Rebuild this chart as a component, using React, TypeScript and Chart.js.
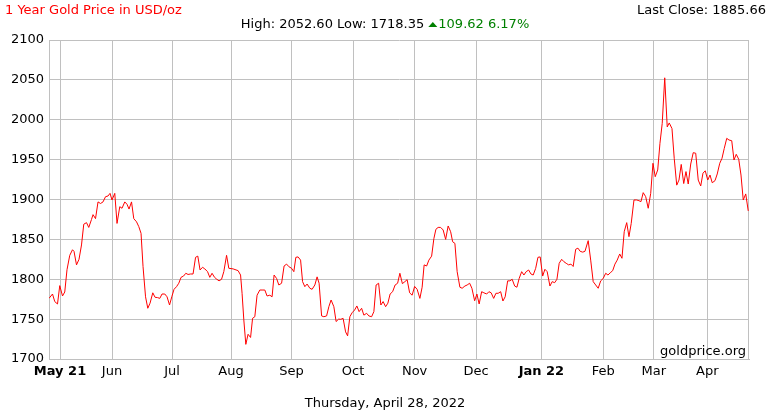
import { useEffect, useRef } from 'react';
import { Chart, registerables } from 'chart.js';

Chart.register(...registerables);

const FONT = '"DejaVu Sans", Verdana, sans-serif';
const GRID = '#c0c0c0';

const titleText = '1 Year Gold Price in USD/oz';
const lastCloseText = 'Last Close: 1885.66';
const highLowText = 'High: 2052.60 Low: 1718.35 ';
const changeText = '109.62 6.17%';
const dateText = 'Thursday, April 28, 2022';
const sourceText = 'goldprice.org';

const yTicks = [1700, 1750, 1800, 1850, 1900, 1950, 2000, 2050, 2100];
const monthLabels = ['May 21', 'Jun', 'Jul', 'Aug', 'Sep', 'Oct', 'Nov', 'Dec', 'Jan 22', 'Feb', 'Mar', 'Apr'];
const monthPos = [4.4, 25.2, 49.2, 72.8, 97, 121.6, 146.2, 170.8, 196.9, 221.6, 241.8, 263.2];
const boldLabels = ['May 21', 'Jan 22'];
const dayMax = 279.9;

// [trading-day position, price USD/oz]
const goldSeries: [number, number][] = [
  [0, 1776], [1.4, 1781.5], [2.3, 1772], [3.4, 1769], [4.3, 1792], [5.4, 1779], [6.3, 1784], [7.2, 1812],
  [8.3, 1830], [9.4, 1837], [10, 1835], [11, 1818], [12, 1825], [13, 1843], [13.9, 1869], [15, 1871],
  [15.9, 1865], [17, 1875], [17.6, 1881], [18.6, 1876], [19.6, 1897], [20.6, 1895], [21.6, 1897], [22.6, 1903.5],
  [23.6, 1904.4], [24.4, 1907.7], [25.2, 1899.4], [26.3, 1907.7], [27.2, 1870], [28.3, 1891], [29.2, 1889], [30.3, 1897],
  [31.2, 1894], [32, 1888], [33, 1897], [33.9, 1876], [35, 1872], [35.9, 1866], [36.8, 1857.6], [37.6, 1815.8],
  [38.6, 1778], [39.5, 1763.6], [40.4, 1770], [41.5, 1783], [42.4, 1777.4], [43.4, 1777], [44.3, 1776], [45.2, 1781.5],
  [46.3, 1781.5], [47.2, 1778], [48.2, 1767.7], [49.1, 1778], [50, 1787.4], [51, 1790.7], [51.9, 1795], [52.8, 1802.4],
  [53.8, 1804], [54.7, 1807.5], [55.6, 1806], [56.6, 1806.6], [57.6, 1806.6], [58.6, 1827.5], [59.5, 1829], [60.4, 1811.6],
  [61.4, 1815], [62.3, 1813], [63.4, 1809.5], [64.3, 1802.4], [65.2, 1807.5], [66.2, 1802.4], [67.1, 1800], [68, 1798],
  [69, 1800], [69.9, 1809.5], [71, 1830], [71.9, 1813.7], [73.6, 1813], [75.6, 1810.8], [76.6, 1805.3], [77.2, 1782.4],
  [77.9, 1749], [78.7, 1718.35], [79.6, 1731], [80.6, 1727], [81.4, 1751], [82.3, 1753], [83.2, 1780], [84.3, 1786.5],
  [85.2, 1786.5], [86.3, 1786.5], [87.2, 1779], [88.3, 1780], [89.2, 1778], [90, 1805.3], [91, 1801], [91.9, 1792.8],
  [93, 1795], [94, 1816.6], [95, 1819], [95.9, 1815.8], [97, 1813.7], [97.9, 1809.5], [98.7, 1827.5], [99.6, 1828],
  [100.6, 1824], [101.4, 1797], [102.3, 1790.7], [103.2, 1794], [104.3, 1788.7], [105.2, 1787.4], [106.3, 1792.8], [107.2, 1803],
  [108, 1795], [109, 1754], [109.9, 1753], [111, 1754], [111.9, 1765.6], [112.8, 1774], [113.9, 1765.6], [114.8, 1747],
  [115.8, 1750], [116.7, 1749.8], [117.6, 1751], [118.6, 1734], [119.4, 1729], [120.3, 1753], [121.2, 1758], [122.2, 1761.4],
  [123.1, 1766.5], [124, 1759.4], [125, 1763.6], [125.9, 1755], [127, 1757.3], [127.9, 1754], [129, 1753], [129.9, 1759.4],
  [130.8, 1792.8], [131.8, 1795], [132.7, 1767.7], [133.6, 1772], [134.6, 1765.6], [135.5, 1770], [136.4, 1781.5], [137.4, 1784.4],
  [138.4, 1792.8], [139.4, 1795], [140.3, 1807.5], [141.3, 1794.5], [142.3, 1797], [143.2, 1799.5], [144.2, 1783], [145.2, 1780],
  [146.2, 1791], [147.2, 1787.4], [148.3, 1776], [149.2, 1790], [150, 1818], [151, 1816.6], [151.9, 1824], [153, 1829],
  [153.9, 1851], [154.7, 1862.6], [155.6, 1865], [156.6, 1865], [157.6, 1861.8], [158.6, 1850], [159.6, 1866.8], [160.6, 1859.6],
  [161.4, 1847], [162.3, 1845], [163.2, 1809.5], [164.3, 1790], [165.2, 1788.7], [166.3, 1791.5], [167.2, 1792.8], [168.2, 1795],
  [169.1, 1788.7], [170.2, 1773], [171.1, 1781.5], [172, 1769], [173, 1784.4], [173.9, 1783], [175, 1781.5], [175.9, 1784.4],
  [176.8, 1783], [177.8, 1776], [178.7, 1782.4], [179.6, 1782.4], [180.6, 1784.4], [181.5, 1772.7], [182.4, 1778], [183.4, 1798],
  [184.3, 1798], [185.2, 1800], [186.2, 1791.5], [187.1, 1790], [188, 1801], [189, 1809.5], [189.9, 1805.3], [190.8, 1809.5],
  [191.8, 1811.6], [192.7, 1806.6], [193.6, 1805.3], [194.6, 1813.7], [195.5, 1827.5], [196.4, 1828], [197.4, 1804], [198.3, 1812.5],
  [199.2, 1809.5], [200.3, 1791.5], [201.2, 1797], [202.2, 1795.7], [203.1, 1800], [204, 1820], [205, 1825], [205.9, 1822],
  [206.8, 1820], [207.8, 1818], [208.7, 1819], [209.6, 1816], [210.6, 1837.6], [211.5, 1839], [212.4, 1835], [213.4, 1834],
  [214.3, 1835], [215.6, 1848.4], [216.6, 1824], [217.6, 1797], [218.6, 1792.8], [219.6, 1788.7], [220.6, 1798], [221.6, 1801],
  [222.6, 1807.5], [223.5, 1805.3], [224.4, 1808], [225.4, 1810.8], [226.3, 1819], [227.2, 1824], [228.2, 1831.7], [229.1, 1826.3],
  [230, 1859.6], [231, 1871], [231.9, 1853.4], [232.8, 1870], [233.9, 1899.4], [235, 1899.4], [235.9, 1898.5], [236.7, 1897.3],
  [237.6, 1908.6], [238.6, 1903.5], [239.6, 1889], [240.6, 1907.7], [241.5, 1945.4], [242.4, 1928.6], [243.4, 1937], [244.3, 1970.5],
  [245.2, 1995.5], [246.2, 2052.6], [247.2, 1991], [248, 1996], [249.1, 1989], [250, 1951.6], [251, 1918], [251.9, 1924.4],
  [252.8, 1944], [253.8, 1920], [254.7, 1935], [255.6, 1919.4], [256.6, 1944.5], [257.6, 1958.7], [258.6, 1958], [259.6, 1924.4],
  [260.6, 1917], [261.5, 1933], [262.4, 1936], [263.4, 1924.4], [264.3, 1930.7], [265.2, 1921], [266.3, 1923.6], [267.2, 1932],
  [268.2, 1945.4], [269.1, 1951.6], [270, 1964], [271, 1976.7], [271.9, 1974.6], [273, 1973.7], [273.9, 1949.5], [274.8, 1956.7],
  [275.8, 1950.4], [276.7, 1930.7], [277.6, 1899.4], [278.6, 1907], [279.6, 1885.66],
];

const overlayPlugin = {
  id: 'overlay',
  beforeDatasetsDraw(chart: any) {
    const { ctx, chartArea } = chart;
    ctx.save();
    ctx.strokeStyle = GRID;
    ctx.lineWidth = 1;
    const x = Math.round(chartArea.right) - 0.5;
    ctx.beginPath();
    ctx.moveTo(x, chartArea.top);
    ctx.lineTo(x, chartArea.bottom);
    ctx.stroke();
    ctx.restore();
  },
  afterDraw(chart: any) {
    const { ctx, chartArea } = chart;
    const W = chart.width;
    ctx.save();
    ctx.font = `13px ${FONT}`;
    ctx.textBaseline = 'alphabetic';

    ctx.fillStyle = '#ff0000';
    ctx.textAlign = 'left';
    ctx.fillText(titleText, 5, 14);

    ctx.fillStyle = '#000000';
    ctx.textAlign = 'right';
    ctx.fillText(lastCloseText, W - 4, 14);

    const w1 = ctx.measureText(highLowText).width;
    const w2 = ctx.measureText(changeText).width;
    const triW = 9;
    const total = w1 + triW + 1 + w2;
    let sx = 385 - total / 2;
    ctx.textAlign = 'left';
    ctx.fillStyle = '#000000';
    ctx.fillText(highLowText, sx, 27.5);
    sx += w1;
    ctx.fillStyle = '#008000';
    ctx.beginPath();
    ctx.moveTo(sx, 27);
    ctx.lineTo(sx + triW, 27);
    ctx.lineTo(sx + triW / 2, 22);
    ctx.closePath();
    ctx.fill();
    sx += triW + 1;
    ctx.fillText(changeText, sx, 27.5);

    ctx.fillStyle = '#000000';
    ctx.textAlign = 'center';
    ctx.fillText(dateText, 385, 407);

    ctx.textAlign = 'right';
    ctx.fillText(sourceText, chartArea.right - 3, 355);
    ctx.restore();
  },
};

export default function App() {
  const ref = useRef<HTMLCanvasElement | null>(null);

  useEffect(() => {
    if (!ref.current) return;
    const chart = new Chart(ref.current, {
      type: 'line',
      data: {
        datasets: [
          {
            data: goldSeries.map(([x, y]) => ({ x, y })),
            borderColor: '#ff0000',
            borderWidth: 1,
            pointRadius: 0,
            tension: 0,
            fill: false,
          },
        ],
      },
      options: {
        animation: false,
        responsive: false,
        maintainAspectRatio: false,
        layout: { padding: { top: 40, right: 21, bottom: 0, left: 0 } },
        plugins: { legend: { display: false }, tooltip: { enabled: false }, title: { display: false } },
        scales: {
          x: {
            type: 'linear',
            min: 0,
            max: dayMax,
            afterBuildTicks: (s: any) => {
              s.ticks = monthPos.map((v) => ({ value: v }));
            },
            afterFit: (s: any) => {
              s.height = 51;
            },
            ticks: {
              autoSkip: false,
              maxRotation: 0,
              padding: 5,
              color: '#000000',
              font: (c: any) => ({
                family: FONT,
                size: 13,
                weight: boldLabels.includes(monthLabels[c.index]) ? 'bold' : 'normal',
              }),
              callback: (_v: any, i: number) => monthLabels[i],
            },
            grid: { color: GRID, drawTicks: false },
            border: { color: GRID },
          },
          y: {
            min: yTicks[0],
            max: yTicks[yTicks.length - 1],
            afterBuildTicks: (s: any) => {
              s.ticks = yTicks.map((v) => ({ value: v }));
            },
            afterFit: (s: any) => {
              s.width = 49;
            },
            ticks: {
              padding: 5,
              color: '#000000',
              font: { family: FONT, size: 13 },
              callback: (v: any) => String(v),
            },
            grid: { color: GRID, drawTicks: false },
            border: { color: GRID },
          },
        },
      },
      plugins: [overlayPlugin],
    });
    return () => chart.destroy();
  }, []);

  return (
    <div style={{ position: 'absolute', left: 0, top: 0, width: 770, height: 410, background: '#fff' }}>
      <canvas ref={ref} width={770} height={410} style={{ display: 'block', width: 770, height: 410 }} />
    </div>
  );
}
